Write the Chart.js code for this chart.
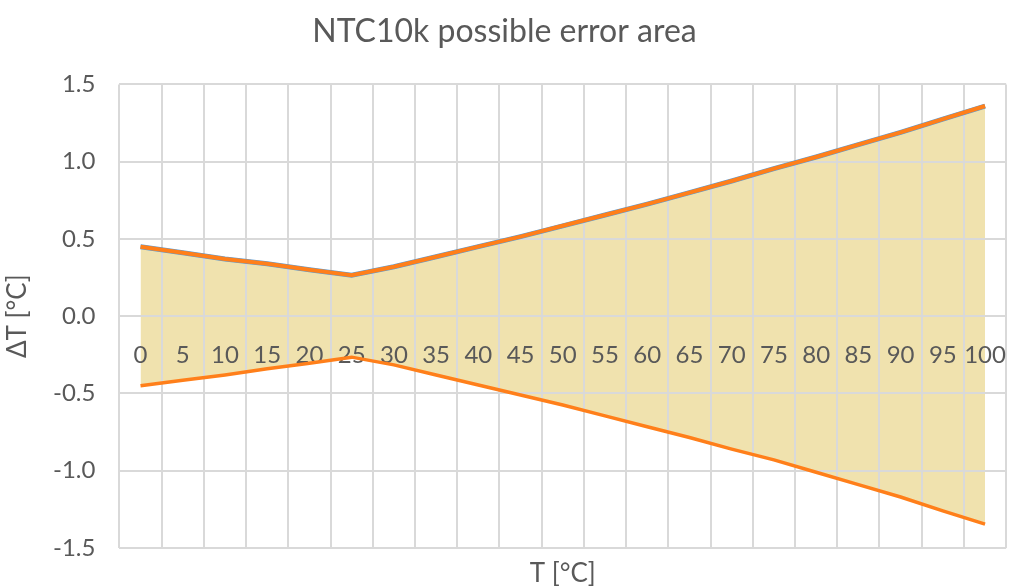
<!DOCTYPE html>
<html>
<head>
<meta charset="utf-8">
<title>NTC10k possible error area</title>
<script src="https://cdn.jsdelivr.net/npm/chart.js@4/dist/chart.umd.min.js"></script>
<style>
  html, body { margin: 0; padding: 0; background: #fff; }
  #wrap { width: 1009px; height: 587px; }
</style>
</head>
<body>
<div id="wrap"><canvas id="errorChart"></canvas></div>
<script>
// Datos del grafico
const temperatures = ["0", "5", "10", "15", "20", "25", "30", "35", "40", "45", "50",
  "55", "60", "65", "70", "75", "80", "85", "90", "95", "100"];

const upperError = [0.45, 0.41, 0.37, 0.34, 0.30, 0.265, 0.32, 0.385, 0.45, 0.515, 0.585,
  0.655, 0.725, 0.80, 0.875, 0.955, 1.03, 1.11, 1.19, 1.275, 1.36];

const lowerError = [-0.45, -0.415, -0.38, -0.34, -0.305, -0.265, -0.315, -0.38, -0.445, -0.51, -0.575,
  -0.645, -0.715, -0.785, -0.86, -0.93, -1.01, -1.09, -1.17, -1.26, -1.345];

const yTicks = [-1.5, -1.0, -0.5, 0.0, 0.5, 1.0, 1.5];

const textColor = "#595959";
const gridColor = "#D9D9D9";

Chart.defaults.font.family = "Lato, 'Open Sans', sans-serif";
Chart.defaults.color = textColor;

const ctx = document.getElementById("errorChart").getContext("2d");

const errorChart = new Chart(ctx, {
  type: "line",
  data: {
    labels: temperatures,
    datasets: [
      {
        label: "upper",
        data: upperError,
        borderColor: "#FF7F1A",
        borderWidth: 4,
        backgroundColor: "rgb(240, 226, 174)",
        fill: 1,
        pointRadius: 0,
        tension: 0,
      },
      {
        label: "lower",
        data: lowerError,
        borderColor: "#FF7F1A",
        borderWidth: 3.5,
        fill: false,
        pointRadius: 0,
        tension: 0,
      },
      {
        label: "upper (blue)",
        data: upperError,
        borderColor: "#5B9BD5",
        borderWidth: 5,
        fill: false,
        pointRadius: 0,
        tension: 0,
      },
    ],
  },
  options: {
    responsive: true,
    maintainAspectRatio: false,
    animation: false,
    layout: { padding: { left: 0, right: 0, top: 0, bottom: 0 } },
    plugins: {
      legend: { display: false },
      tooltip: { enabled: false },
      // el relleno se pinta antes que la rejilla, como en Excel
      filler: { drawTime: "beforeDraw" },
      title: {
        display: true,
        text: "NTC10k possible error area",
        color: textColor,
        font: { size: 32, weight: "normal", lineHeight: 1.2 },
        padding: { top: 12, bottom: 34 },
      },
    },
    scales: {
      x: {
        type: "category",
        position: { y: 0 },
        offset: true,
        grid: {
          offset: true,
          color: gridColor,
          lineWidth: 2,
          drawTicks: true,
          tickLength: 22,
          tickColor: "rgba(0,0,0,0)",
        },
        border: { display: false },
        ticks: {
          padding: 3,
          maxRotation: 0,
          autoSkip: false,
          font: { size: 24 },
          color: textColor,
        },
      },
      x2: {
        type: "category",
        position: "bottom",
        offset: true,
        grid: { display: false, drawTicks: false },
        border: { display: false },
        ticks: { display: false },
        title: {
          display: true,
          text: "T [°C]",
          color: textColor,
          font: { size: 26, lineHeight: 1.0 },
          padding: { top: 13, bottom: 0 },
        },
      },
      y: {
        min: -1.5,
        max: 1.5,
        afterBuildTicks: (scale) => {
          scale.ticks = yTicks.map((v) => ({ value: v }));
        },
        grid: {
          color: gridColor,
          lineWidth: 2,
          drawTicks: false,
        },
        border: { display: false },
        ticks: {
          padding: 24,
          font: { size: 24 },
          color: textColor,
          callback: (value) => Number(value).toFixed(1),
        },
        title: {
          display: true,
          text: "ΔT [°C]",
          color: textColor,
          font: { size: 26, lineHeight: 1.0 },
          padding: { top: 5, bottom: -2 },
        },
      },
    },
  },
});
</script>
</body>
</html>
